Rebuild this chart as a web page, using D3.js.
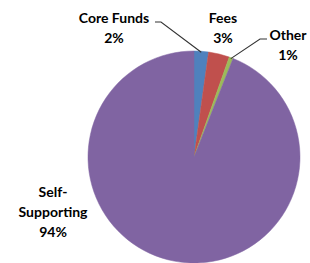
<!DOCTYPE html>
<html>
<head>
<meta charset="utf-8">
<script src="https://cdn.jsdelivr.net/npm/d3@7"></script>
<style>
  body { margin: 0; background: #fff; }
  svg { display: block; }
</style>
</head>
<body>
<div id="chart"></div>
<script>
// data
var categories = ["Core Funds", "Fees", "Other", "Self-Supporting"];
var values = [2.2, 3.2, 0.6, 94.0];
var pctLabels = ["2%", "3%", "1%", "94%"];
var colors = ["#4F81BD", "#C0504D", "#9BBB59", "#8064A2"];

// label layout (line texts and where they sit)
var labelLines = [["Core Funds", "2%"], ["Fees", "3%"], ["Other", "1%"], ["Self-", "Supporting", "94%"]];
var labelPos = [[114, 23], [223, 23], [288, 40], [53, 197]];
var leaders = [[[155, 22], [161, 22]], null, [[267, 39], [260, 39]], null];

var width = 310, height = 263;
var cx = 194, cy = 157, radius = 106;

var svg = d3.select("#chart")
  .append("svg")
    .attr("width", width)
    .attr("height", height);

var g = svg.append("g")
    .attr("transform", "translate(" + cx + "," + cy + ")");

var data = categories.map(function(c, i) {
  return {name: c, value: values[i], pct: pctLabels[i], color: colors[i]};
});

var pie = d3.pie()
  .sort(null)
  .value(d => d.value);

var arc = d3.arc()
  .innerRadius(0)
  .outerRadius(radius);

var arcs = pie(data);

g.selectAll("path.slice")
  .data(arcs)
  .enter()
  .append("path")
    .attr("class", "slice")
    .attr("d", arc)
    .attr("fill", d => d.data.color)
    .attr("stroke", d => d.data.color)
    .attr("stroke-width", 0.5);

// leader lines
arcs.forEach(function(a, i) {
  if (!leaders[i]) return;
  var mid = (a.startAngle + a.endAngle) / 2;
  var ex = cx + Math.sin(mid) * (radius - 1);
  var ey = cy - Math.cos(mid) * (radius - 1);
  var pts = leaders[i].concat([[ex, ey]]);
  svg.append("path")
    .attr("d", d3.line()(pts))
    .attr("fill", "none")
    .attr("stroke", "#333")
    .attr("stroke-width", 1.1);
});

// labels
labelLines.forEach(function(lines, i) {
  var t = svg.append("text")
    .attr("x", labelPos[i][0])
    .attr("y", labelPos[i][1])
    .attr("text-anchor", "middle")
    .style("font-family", "Lato, 'Open Sans', sans-serif")
    .style("font-weight", "bold")
    .style("font-size", "14px")
    .attr("fill", "#000");
  lines.forEach(function(l, j) {
    t.append("tspan")
      .attr("x", labelPos[i][0])
      .attr("dy", j === 0 ? 0 : 20)
      .text(l);
  });
});
</script>
</body>
</html>
